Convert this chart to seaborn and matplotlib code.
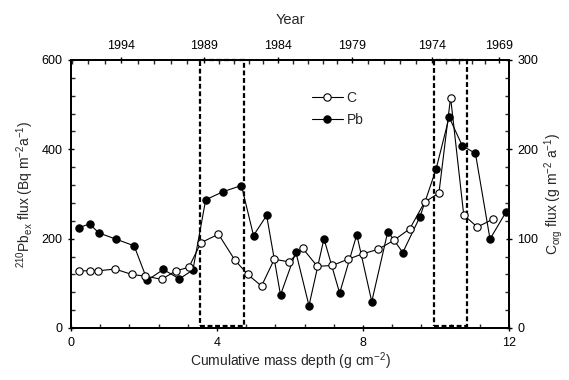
import matplotlib
matplotlib.use("Agg")
import matplotlib.pyplot as plt
from matplotlib.patches import Rectangle
from matplotlib.ticker import MultipleLocator, FixedLocator
import seaborn as sns
import numpy as np

# ---- data ----
depth_pb = [0.23, 0.51, 0.76, 1.23, 1.73, 2.09, 2.53, 2.97, 3.34, 3.69, 4.16, 4.67, 5.00, 5.36, 5.74,
            6.16, 6.52, 6.93, 7.36, 7.83, 8.24, 8.68, 9.09, 9.56, 10.00, 10.36, 10.72, 11.08, 11.48, 11.92]
pb_flux = [225, 233, 213, 199, 184, 107, 131, 110, 130, 287, 305, 319, 207, 252, 74,
           170, 50, 200, 78, 209, 59, 216, 169, 249, 355, 472, 408, 391, 199, 260]

depth_c = [0.21, 0.51, 0.74, 1.21, 1.66, 2.04, 2.48, 2.88, 3.23, 3.56, 4.04, 4.49, 4.84, 5.22, 5.57,
           5.97, 6.35, 6.75, 7.16, 7.59, 7.99, 8.41, 8.84, 9.28, 9.69, 10.08, 10.40, 10.76, 11.13, 11.57]
c_flux = [64, 64, 64, 66, 60, 58, 54.5, 64, 68, 95.5, 105, 76, 60, 47, 77,
          74, 89, 69, 70, 77, 83, 88, 98, 111, 141, 151, 258, 126.5, 113, 122]

year_labels = ["1994", "1989", "1984", "1979", "1974", "1969"]
year_depths = [1.38, 3.64, 5.68, 7.70, 9.90, 11.72]

box_ranges = [(3.54, 4.75), (9.95, 10.86)]

# ---- style ----
sns.set_style("ticks")
plt.rcParams["font.family"] = ["Liberation Sans", "DejaVu Sans"]
plt.rcParams["mathtext.default"] = "regular"

fig = plt.figure(figsize=(5.69, 3.80), dpi=100)
ax = fig.add_axes([71/569, 52/380, (509-71)/569, (328-60)/380])
ax2 = ax.twinx()
axt = ax.twiny()

sns.lineplot(x=depth_pb, y=pb_flux, ax=ax, color="black", lw=0.8, marker="o",
             markersize=5.3, markerfacecolor="black", markeredgecolor="black",
             label="Pb", legend=False)
sns.lineplot(x=depth_c, y=c_flux, ax=ax2, color="black", lw=0.8, marker="o",
             markersize=5.3, markerfacecolor="white", markeredgecolor="black",
             markeredgewidth=0.8, label="C", legend=False)

ax.set_xlim(0, 12)
ax.set_ylim(0, 600)
ax2.set_ylim(0, 300)
axt.set_xlim(0, 12)

for x0, x1 in box_ranges:
    ax.add_patch(Rectangle((x0, 5), x1 - x0, 595, fill=False, ls=(0, (2.2, 1.2)),
                           lw=1.6, ec="black", clip_on=False, zorder=5))

# ticks
ax.xaxis.set_major_locator(MultipleLocator(4))
ax.xaxis.set_minor_locator(MultipleLocator(0.8))
ax.yaxis.set_major_locator(MultipleLocator(200))
ax.yaxis.set_minor_locator(MultipleLocator(40))
ax2.yaxis.set_major_locator(MultipleLocator(100))
ax2.yaxis.set_minor_locator(MultipleLocator(20))

axt.xaxis.set_major_locator(FixedLocator(year_depths))
axt.set_xticklabels(year_labels)
minor_top = []
step = (year_depths[1] - year_depths[0]) / 5
for i in range(len(year_depths) - 1):
    a, b = year_depths[i], year_depths[i + 1]
    minor_top += list(np.linspace(a, b, 6)[1:-1])
minor_top += [year_depths[0] - step * k for k in (1, 2, 3)]
minor_top = [m for m in minor_top if 0 < m < 12]
axt.xaxis.set_minor_locator(FixedLocator(minor_top))

for a in (ax, ax2, axt):
    a.tick_params(which="major", length=5, width=1, direction="inout", labelsize=9, colors="black")
    a.tick_params(which="minor", length=3, width=1, direction="in")
    for s in a.spines.values():
        s.set_linewidth(1.2)
        s.set_color("black")
ax.tick_params(axis="x", pad=4)
axt.tick_params(axis="x", pad=3)

ax.set_xlabel(r"Cumulative mass depth (g cm$^{-2}$)", fontsize=10, labelpad=1)
ax.set_ylabel(r"$^{210}$Pb$_{ex}$ flux (Bq m$^{-2}$a$^{-1}$)", fontsize=10, labelpad=4)
ax2.set_ylabel(r"C$_{org}$ flux (g m$^{-2}$ a$^{-1}$)", fontsize=10, labelpad=3)
axt.set_xlabel("Year", fontsize=10.5, labelpad=12)

h1, l1 = ax2.get_legend_handles_labels()
h2, l2 = ax.get_legend_handles_labels()
leg = fig.legend(h1 + h2, l1 + l2, loc="upper left", bbox_to_anchor=(305/569, 1 - 84/380),
                 frameon=False, fontsize=10, handlelength=2.2, handletextpad=0.3,
                 labelspacing=0.6, borderpad=0)

fig.savefig("out.png", dpi=100)
